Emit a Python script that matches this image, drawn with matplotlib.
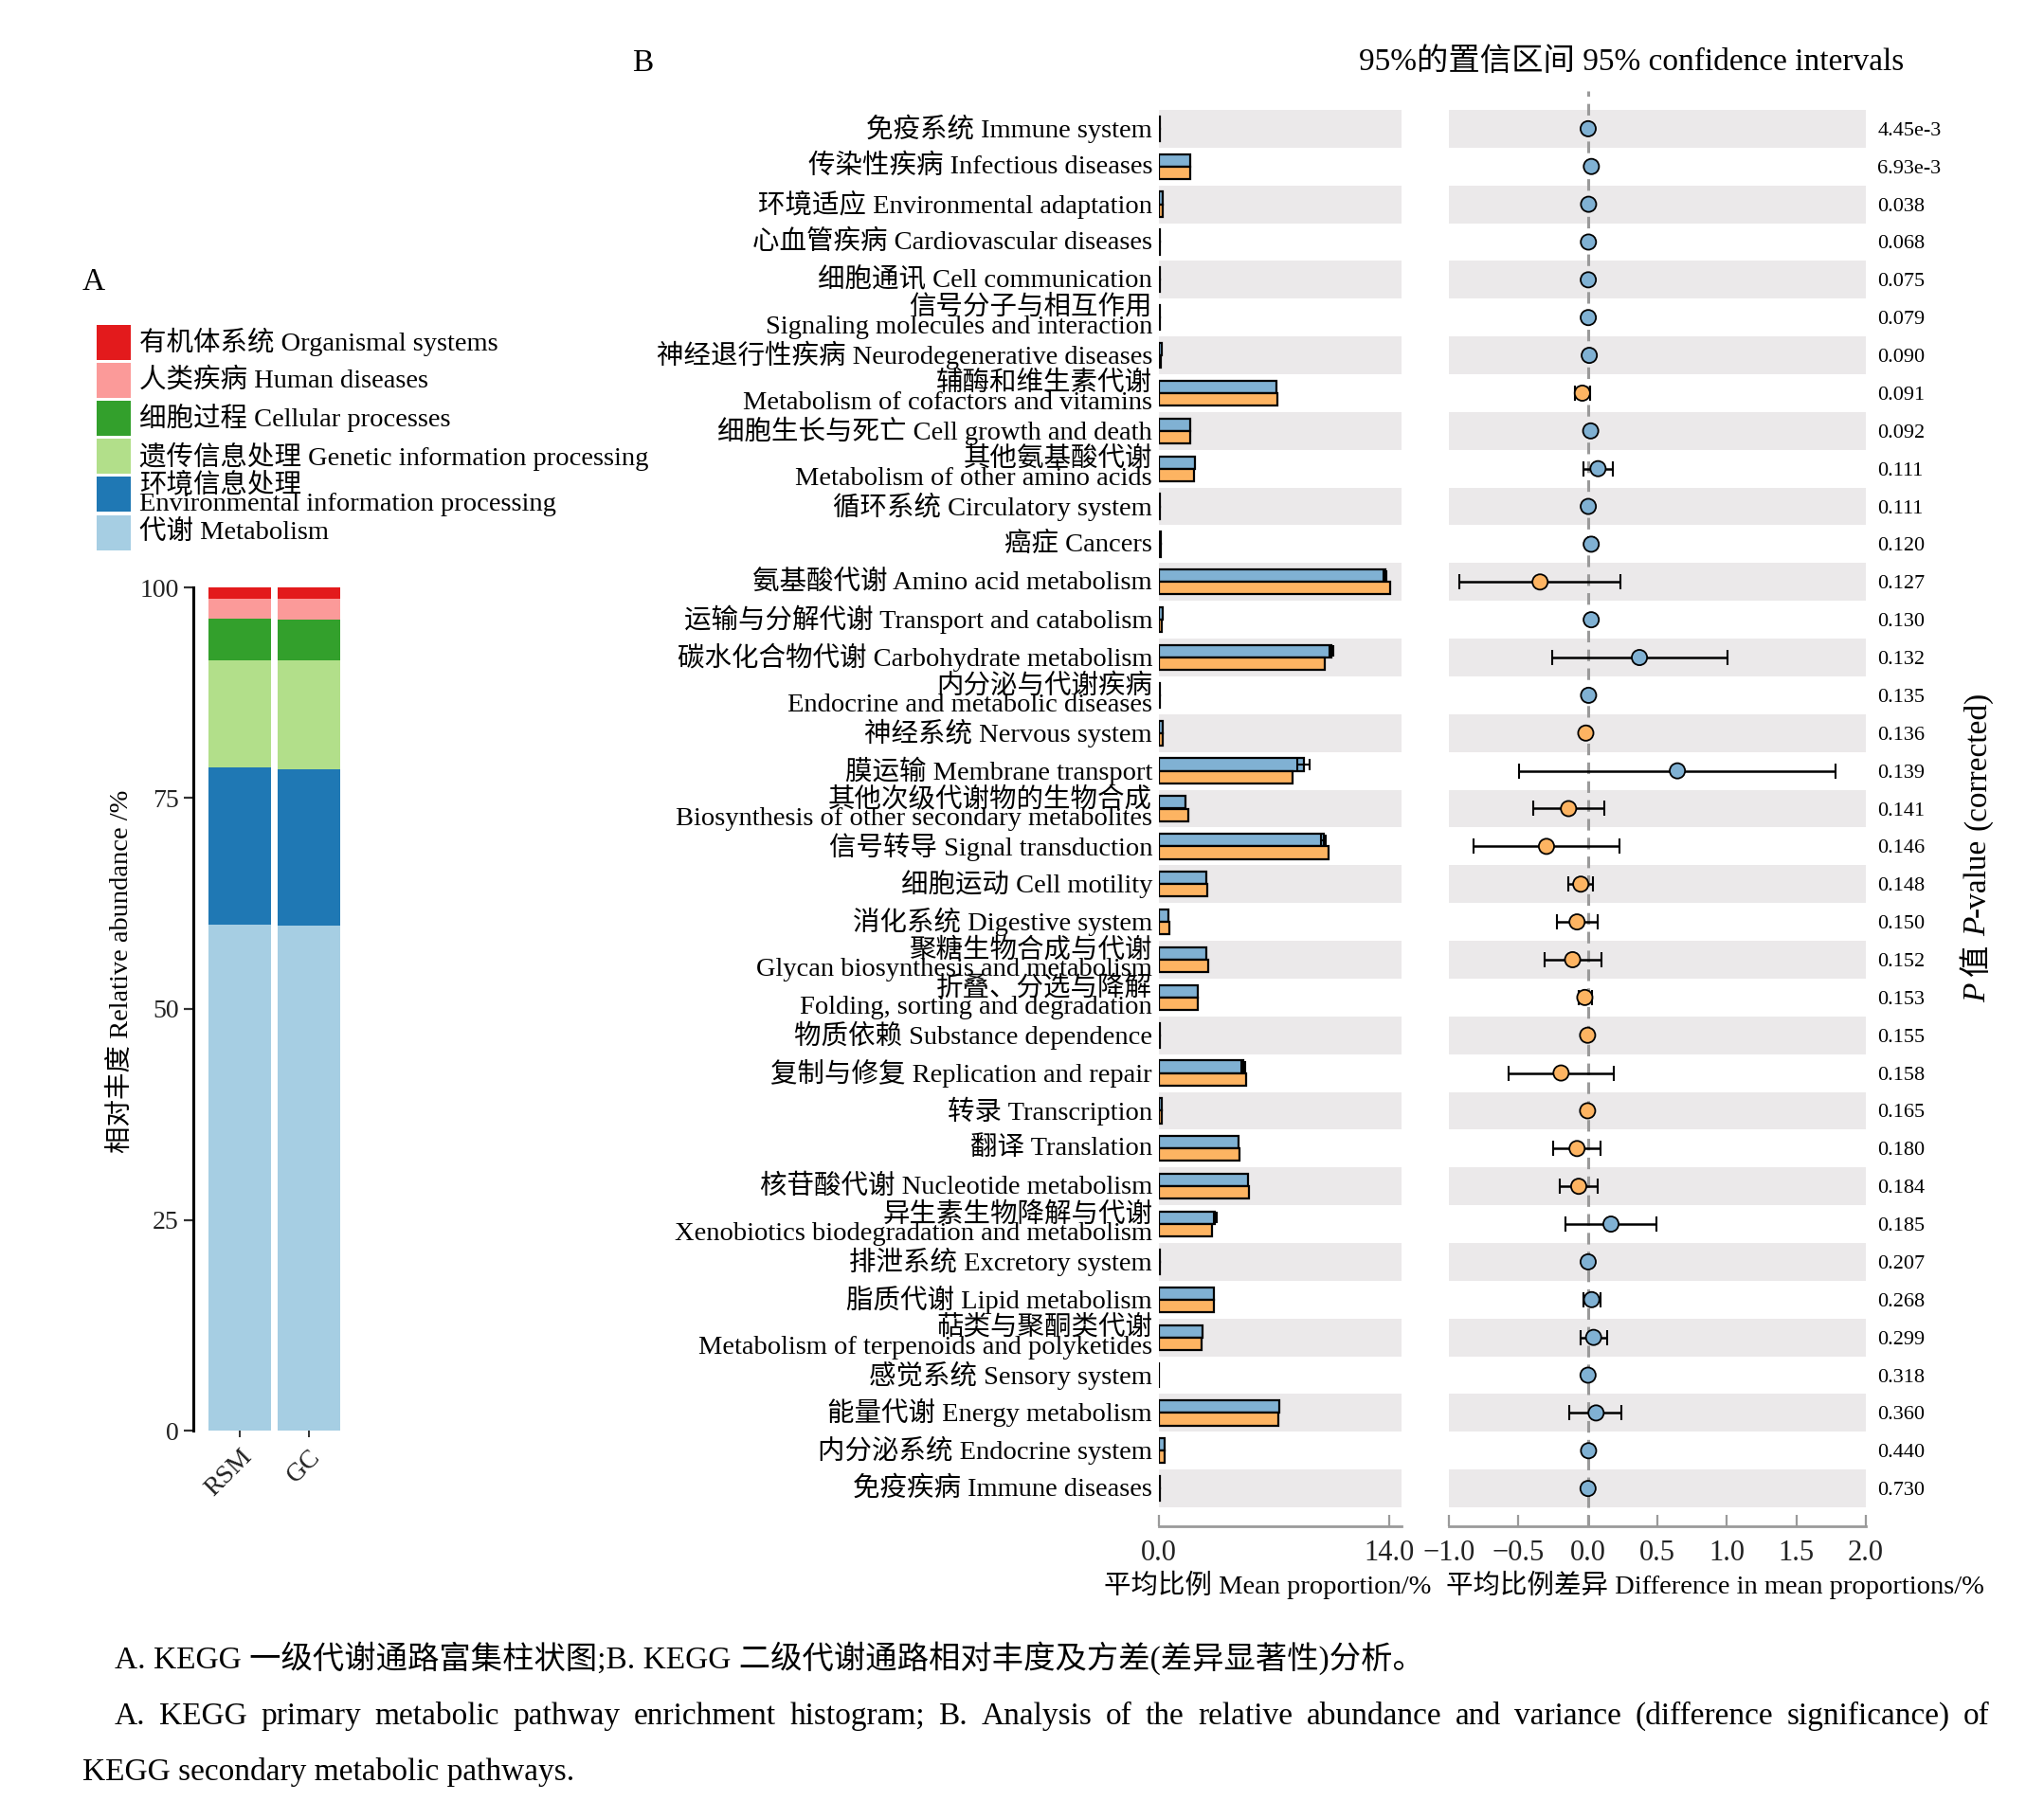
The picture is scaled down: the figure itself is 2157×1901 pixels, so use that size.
import matplotlib
matplotlib.use('Agg')
import matplotlib.pyplot as plt
from matplotlib.patches import Rectangle
import numpy as np

plt.rcParams['font.family'] = ['Liberation Serif', 'Noto Sans CJK SC']
plt.rcParams['axes.unicode_minus'] = True

# ---------------- data: panel A ----------------
samples = ['RSM', 'GC']
level1_labels = ['代谢 Metabolism',
                 '环境信息处理\nEnvironmental information processing',
                 '遗传信息处理 Genetic information processing',
                 '细胞过程 Cellular processes',
                 '人类疾病 Human diseases',
                 '有机体系统 Organismal systems']
level1_rsm = [60.0, 18.7, 12.6, 5.0, 2.3, 1.4]
level1_gc = [59.9, 18.5, 12.9, 4.9, 2.4, 1.4]
level1_colors = ['#a6cee3', '#1f78b4', '#b2df8a', '#33a02c', '#fb9a99', '#e31a1c']

# ---------------- data: panel B ----------------
pathway_labels = [
    '免疫系统 Immune system',
    '传染性疾病 Infectious diseases',
    '环境适应 Environmental adaptation',
    '心血管疾病 Cardiovascular diseases',
    '细胞通讯 Cell communication',
    '信号分子与相互作用\nSignaling molecules and interaction',
    '神经退行性疾病 Neurodegenerative diseases',
    '辅酶和维生素代谢\nMetabolism of cofactors and vitamins',
    '细胞生长与死亡 Cell growth and death',
    '其他氨基酸代谢\nMetabolism of other amino acids',
    '循环系统 Circulatory system',
    '癌症 Cancers',
    '氨基酸代谢 Amino acid metabolism',
    '运输与分解代谢 Transport and catabolism',
    '碳水化合物代谢 Carbohydrate metabolism',
    '内分泌与代谢疾病\nEndocrine and metabolic diseases',
    '神经系统 Nervous system',
    '膜运输 Membrane transport',
    '其他次级代谢物的生物合成\nBiosynthesis of other secondary metabolites',
    '信号转导 Signal transduction',
    '细胞运动 Cell motility',
    '消化系统 Digestive system',
    '聚糖生物合成与代谢\nGlycan biosynthesis and metabolism',
    '折叠、分选与降解\nFolding, sorting and degradation',
    '物质依赖 Substance dependence',
    '复制与修复 Replication and repair',
    '转录 Transcription',
    '翻译 Translation',
    '核苷酸代谢 Nucleotide metabolism',
    '异生素生物降解与代谢\nXenobiotics biodegradation and metabolism',
    '排泄系统 Excretory system',
    '脂质代谢 Lipid metabolism',
    '萜类与聚酮类代谢\nMetabolism of terpenoids and polyketides',
    '感觉系统 Sensory system',
    '能量代谢 Energy metabolism',
    '内分泌系统 Endocrine system',
    '免疫疾病 Immune diseases',
]
mean_rsm = [0.05, 1.92, 0.25, 0.03, 0.03, 0.03, 0.15, 7.13, 1.92, 2.17,
            0.03, 0.13, 13.75, 0.22, 10.48, 0.03, 0.24, 8.79, 1.63, 10.00,
            2.87, 0.56, 2.88, 2.37, 0.05, 5.13, 0.20, 4.83, 5.40, 3.42,
            0.03, 3.37, 2.65, 0.02, 7.33, 0.33, 0.03]
mean_gc = [0.05, 1.90, 0.24, 0.03, 0.03, 0.03, 0.14, 7.21, 1.88, 2.12,
           0.03, 0.11, 14.06, 0.20, 10.11, 0.03, 0.25, 8.14, 1.77, 10.30,
           2.92, 0.64, 2.99, 2.39, 0.05, 5.32, 0.20, 4.91, 5.47, 3.25,
           0.03, 3.34, 2.61, 0.02, 7.27, 0.33, 0.03]
sd_rsm = [0, 0, 0, 0, 0, 0, 0, 0, 0, 0,
          0, 0, 0.10, 0, 0.13, 0, 0, 0.35, 0, 0.15,
          0, 0, 0, 0, 0, 0.12, 0, 0, 0, 0.08,
          0, 0, 0, 0, 0, 0, 0]
diff_mean = [0.002, 0.025, 0.005, 0.004, 0.003, 0.003, 0.010, -0.040, 0.020, 0.073,
             0.003, 0.024, -0.344, 0.024, 0.371, 0.005, -0.015, 0.644, -0.139, -0.298,
             -0.051, -0.078, -0.110, -0.022, -0.002, -0.193, -0.002, -0.078, -0.066, 0.166,
             0.002, 0.027, 0.041, 0.001, 0.059, 0.005, 0.001]
ci_low = [-0.003, 0.010, 0.000, 0.000, 0.000, 0.000, 0.005, -0.093, 0.005, -0.032,
          0.000, 0.005, -0.927, 0.010, -0.259, 0.000, -0.025, -0.495, -0.393, -0.822,
          -0.141, -0.224, -0.312, -0.068, -0.008, -0.571, -0.008, -0.251, -0.200, -0.163,
          -0.003, -0.032, -0.051, -0.004, -0.132, 0.000, -0.004]
ci_high = [0.007, 0.040, 0.010, 0.008, 0.006, 0.006, 0.015, 0.017, 0.035, 0.180,
           0.006, 0.043, 0.237, 0.035, 1.005, 0.010, -0.005, 1.780, 0.117, 0.224,
           0.037, 0.071, 0.098, 0.027, 0.004, 0.183, 0.004, 0.088, 0.073, 0.493,
           0.007, 0.088, 0.137, 0.006, 0.241, 0.010, 0.006]
p_values = ['4.45e-3', '6.93e-3', '0.038', '0.068', '0.075', '0.079', '0.090', '0.091',
            '0.092', '0.111', '0.111', '0.120', '0.127', '0.130', '0.132', '0.135',
            '0.136', '0.139', '0.141', '0.146', '0.148', '0.150', '0.152', '0.153',
            '0.155', '0.158', '0.165', '0.180', '0.184', '0.185', '0.207', '0.268',
            '0.299', '0.318', '0.360', '0.440', '0.730']
bar_ticks = [0.0, 14.0]
diff_ticks = [-1.0, -0.5, 0.0, 0.5, 1.0, 1.5, 2.0]

COL_RSM = '#80b1d3'
COL_GC = '#fdb462'
BAND = '#ebe9ea'
AXGREY = '#9a9a9a'

# ---------------- figure ----------------
W, H = 2157, 1901
fig = plt.figure(figsize=(W / 100, H / 100), dpi=100)
PX = 72 / 100.0  # points per pixel


def fx(px):
    return px / W


def fy(py):
    return 1 - py / H


def axes_px(l, t, r, b):
    return fig.add_axes([fx(l), fy(b), (r - l) / W, (b - t) / H])


# ---------------- panel A ----------------
axA = axes_px(204, 620, 360, 1510)
xpos = np.arange(len(samples))
bottom = np.zeros(len(samples))
for vr, vg, col in zip(level1_rsm, level1_gc, level1_colors):
    vals = np.array([vr, vg])
    axA.bar(xpos, vals, bottom=bottom, width=0.91, color=col, linewidth=0)
    bottom += vals
axA.set_xlim(-0.68, 1.47)
axA.set_ylim(0, 100)
for s in ['top', 'right', 'bottom']:
    axA.spines[s].set_visible(False)
axA.spines['left'].set_linewidth(2.2)
axA.set_yticks([0, 25, 50, 75, 100])
axA.set_yticklabels(['0', '25', '50', '75', '100'], fontsize=20)
axA.tick_params(axis='y', length=7, width=1.6, pad=4, colors='#333333')
axA.set_xticks(xpos)
axA.set_xticklabels(samples, fontsize=20, rotation=45, ha='right',
                    rotation_mode='anchor')
axA.tick_params(axis='x', length=5, width=1.4, pad=6, colors='#333333')
for t in axA.get_xticklabels() + axA.get_yticklabels():
    t.set_color('#222222')
fig.text(fx(128), fy(1025), '相对丰度 Relative abundance /%', rotation=90,
         ha='center', va='center', fontsize=20.5)

# legend of panel A (top: last category)
fig.text(fx(87), fy(298), 'A', fontsize=24, ha='left', va='center')
leg_top = 341
leg_step = 40.2
for k, idx in enumerate(range(len(level1_labels) - 1, -1, -1)):
    cy = leg_top + k * leg_step + leg_step / 2
    fig.add_artist(Rectangle((fx(102), fy(cy + 18.5)), 36 / W, 37 / H,
                             transform=fig.transFigure, color=level1_colors[idx], lw=0))
    fig.text(fx(147), fy(cy), level1_labels[idx], fontsize=20.5, ha='left',
             va='center', linespacing=0.72)

# ---------------- panel B : bars ----------------
n = len(pathway_labels)
y = np.arange(n)
top_px, bot_px = 96, 1611
axB = axes_px(1223, top_px, 1479, bot_px)
axD = axes_px(1529, top_px, 1969, bot_px)

for ax in (axB, axD):
    for i in range(0, n, 2):
        ax.axhspan(i - 0.5, i + 0.5, color=BAND, lw=0, zorder=0)
    ax.set_ylim(n, -1)
    for s in ['top', 'right', 'left']:
        ax.spines[s].set_visible(False)
    ax.spines['bottom'].set_color(AXGREY)
    ax.spines['bottom'].set_linewidth(2.0)
    ax.tick_params(axis='x', direction='in', length=9, width=1.6, color=AXGREY,
                   labelsize=22, pad=10, labelcolor='#222222')

bh = 0.33
axB.barh(y - bh / 2, mean_rsm, height=bh, color=COL_RSM, edgecolor='black',
         linewidth=1.6, zorder=2)
axB.barh(y + bh / 2, mean_gc, height=bh, color=COL_GC, edgecolor='black',
         linewidth=1.6, zorder=2)
sd = np.array(sd_rsm)
m = sd > 0
axB.errorbar(np.array(mean_rsm)[m], (y - bh / 2)[m], xerr=sd[m], fmt='none',
             ecolor='black', elinewidth=1.5, capsize=4, capthick=1.5, zorder=3)
axB.set_xlim(0, 14.75)
axB.set_xticks(bar_ticks)
axB.set_xticklabels(['%.1f' % v for v in bar_ticks])
axB.set_yticks(y)
axB.set_yticklabels(pathway_labels, fontsize=20.5)
axB.tick_params(axis='y', length=0, pad=5)
for t in axB.get_yticklabels():
    t.set_linespacing(0.72)
    t.set_va('center')
axB.set_xlabel('平均比例 Mean proportion/%', fontsize=20.5)
axB.xaxis.set_label_coords((1338 - 1223) / 256, -0.031)

# ---------------- panel B : differences ----------------
diff = np.array(diff_mean)
lo = np.array(ci_low)
hi = np.array(ci_high)
axD.axvline(0, color=AXGREY, lw=2.2, ls=(0, (4, 2.5)), zorder=1)
axD.errorbar(diff, y, xerr=[diff - lo, hi - diff], fmt='none', ecolor='black',
             elinewidth=1.8, capsize=6, capthick=1.5, zorder=2)
dot_cols = [COL_RSM if d > 0 else COL_GC for d in diff]
axD.scatter(diff, y, s=135, c=dot_cols, edgecolors='black', linewidths=1.3,
            zorder=3)
axD.set_xlim(-1.0, 2.0)
axD.set_xticks(diff_ticks)
axD.set_xticklabels([('%.1f' % v).replace('-', '\u2212') for v in diff_ticks])
axD.yaxis.tick_right()
axD.set_yticks(y)
axD.set_yticklabels(p_values, fontsize=16)
axD.tick_params(axis='y', length=0, pad=9)
axD.set_xlabel('平均比例差异 Difference in mean proportions/%', fontsize=20.5)
axD.xaxis.set_label_coords((1810 - 1529) / 440, -0.031)

fig.text(fx(667), fy(67), 'B', fontsize=24, ha='left', va='center')
fig.text(fx(1722), fy(66), '95%的置信区间 95% confidence intervals',
         fontsize=24, ha='center', va='center')

# ---------------- text runs helper ----------------
renderer = fig.canvas.get_renderer()


def run_width(txt, fs, style='normal'):
    t = fig.text(0, 0, txt, fontsize=fs, style=style)
    w = t.get_window_extent(renderer).width
    t.remove()
    return w


# rotated P-value label made of runs
runs = [('P', 'italic', True), ('值', 'normal', True), ('P', 'italic', False),
        ('-value', 'normal', True), ('(corrected)', 'normal', False)]
fsP = 24
gapP = 0.25 * fsP / PX
widths = [run_width(r[0], fsP, r[1]) for r in runs]
total = sum(widths) + sum(gapP for r in runs if r[2])
cur = 894 + total / 2  # pixel y (downward) where text starts
base_x = 2095
for (txt, st, sp), w in zip(runs, widths):
    fig.text(fx(base_x), fy(cur), txt, fontsize=fsP, style=st, rotation=90,
             rotation_mode='anchor', ha='left', va='baseline')
    cur -= w + (gapP if sp else 0)

# ---------------- caption ----------------
fsC = 24
fig.text(fx(121), fy(1761),
         'A. KEGG 一级代谢通路富集柱状图;B. KEGG 二级代谢通路相对丰度及方差(差异显著性)分析。',
         fontsize=fsC, ha='left', va='baseline')
cap2 = ('A. KEGG primary metabolic pathway enrichment histogram; B. Analysis of the '
        'relative abundance and variance (difference significance) of')
words = cap2.split(' ')
ww = [run_width(w, fsC) for w in words]
x_left, x_right = 121, 2100
gap = (x_right - x_left - sum(ww)) / (len(words) - 1)
cx = x_left
for w, wdt in zip(words, ww):
    fig.text(fx(cx), fy(1820), w, fontsize=fsC, ha='left', va='baseline')
    cx += wdt + gap
fig.text(fx(87), fy(1879), 'KEGG secondary metabolic pathways.', fontsize=fsC,
         ha='left', va='baseline')

fig.savefig('out.png', dpi=100)
